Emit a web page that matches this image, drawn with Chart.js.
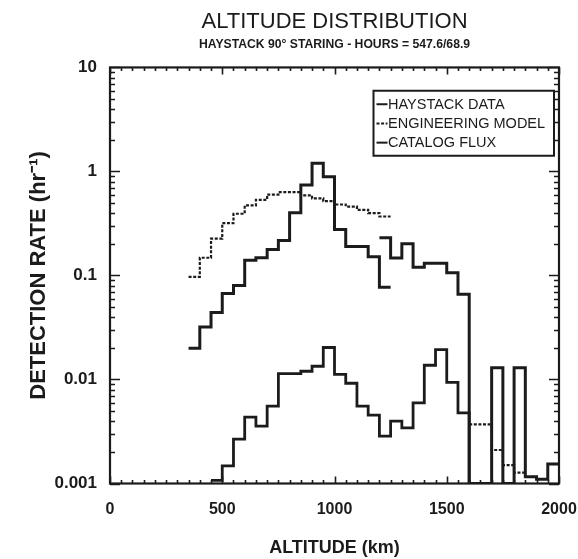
<!DOCTYPE html>
<html>
<head>
<meta charset="utf-8">
<script src="https://cdn.jsdelivr.net/npm/chart.js@4"></script>
<style>
html,body{margin:0;padding:0;background:#fff;}
#wrap{width:578px;height:559px;}
</style>
</head>
<body>
<div id="wrap"><canvas id="c" width="578" height="559"></canvas></div>
<script>
// ---- data (altitude bin left edges in km, 50 km bins; detection rate in hr^-1) ----
const BIN_WIDTH = 50;

const haystackAltA = [350,400,450,500,550,600,650,700,750,800,850,900,950,1000,1050,1100,1150,1200];
const haystackRateA = [0.020,0.032,0.044,0.067,0.080,0.140,0.148,0.178,0.217,0.40,0.74,1.20,0.89,0.277,0.19,0.19,0.151,0.077];

const haystackAltB = [1200,1250,1300,1350,1400,1450,1500,1550,1600,1650,1700,1750,1800,1850,1900,1950];
const haystackRateB = [0.231,0.147,0.202,0.120,0.131,0.131,0.106,0.066,0.001,0.001,0.013,0.001,0.013,0.00116,0.0011,0.00154];

const modelAltA = [350,400,450,500,550,600,650,700,750,800,850,900,950,1000,1050,1100,1150,1200];
const modelRateA = [0.097,0.148,0.226,0.318,0.392,0.471,0.534,0.600,0.632,0.632,0.590,0.550,0.518,0.481,0.460,0.428,0.397,0.369];

const modelAltB = [1600,1650,1700,1750,1800];
const modelRateB = [0.0037,0.0037,0.0021,0.0015,0.00127];

const catalogAlt = [450,500,550,600,650,700,750,800,850,900,950,1000,1050,1100,1150,1200,1250,1300,1350,1400,1450,1500,1550,1600];
const catalogRate = [0.00107,0.00148,0.00267,0.00435,0.00356,0.00554,0.0114,0.0114,0.0120,0.0134,0.0203,0.0112,0.0092,0.00554,0.00454,0.00286,0.00398,0.00343,0.00596,0.0137,0.0194,0.00936,0.00478,0.001];

const xTickValues = [0,500,1000,1500,2000];
const yTickValues = [0.001,0.01,0.1,1,10];

const titleText = 'ALTITUDE DISTRIBUTION';
const subtitleText = 'HAYSTACK 90\u00B0 STARING - HOURS = 547.6/68.9';
const xTitle = 'ALTITUDE (km)';
const yTitle = 'DETECTION RATE (hr\u207B\u00B9)';
const legendLabels = ['HAYSTACK DATA','ENGINEERING MODEL','CATALOG FLUX'];

// ---- helpers ----
function steps(alts, vals){
  const pts = alts.map((a,i)=>({x:a, y:vals[i]}));
  pts.push({x: alts[alts.length-1] + BIN_WIDTH, y: vals[vals.length-1]});
  return pts;
}

const INK = '#1b1b1b';
const FAMILY = "'Liberation Sans', Arial, Helvetica, sans-serif";

const modelData = steps(modelAltA, modelRateA)
  .concat([{x: 1400, y: null}])
  .concat(steps(modelAltB, modelRateB));

const datasets = [
  {label: legendLabels[0], inLegend: true, data: steps(haystackAltA, haystackRateA),
   borderColor: INK, borderWidth: 3, stepped: true, pointRadius: 0, fill: false},
  {label: legendLabels[1], inLegend: true, data: modelData,
   borderColor: INK, borderWidth: 2.2, borderDash: [3,1.6], stepped: true, pointRadius: 0, fill: false, spanGaps: false},
  {label: legendLabels[2], inLegend: true, data: steps(catalogAlt, catalogRate),
   borderColor: INK, borderWidth: 2.8, stepped: true, pointRadius: 0, fill: false},
  {label: legendLabels[0] + ' (2)', inLegend: false, data: steps(haystackAltB, haystackRateB),
   borderColor: INK, borderWidth: 3, stepped: true, pointRadius: 0, fill: false}
];

// frame + inward ticks on all four sides, placed through the scales
const frameTicks = {
  id: 'frameTicks',
  afterDatasetsDraw(chart){
    const {ctx, chartArea: a, scales: {x, y}} = chart;
    ctx.save();
    ctx.strokeStyle = INK;
    ctx.lineWidth = 1.6;
    ctx.beginPath();
    for (let k = -3; k <= 1; k++){
      for (let m = 1; m <= 9; m++){
        const v = m * Math.pow(10, k);
        if (v > 10.0001) break;
        const py = Math.round(y.getPixelForValue(v)) + 0.5;
        const len = m === 1 ? 10 : 5;
        ctx.moveTo(a.left, py); ctx.lineTo(a.left + len, py);
        ctx.moveTo(a.right, py); ctx.lineTo(a.right - len, py);
      }
    }
    for (let v = 0; v <= 2000; v += BIN_WIDTH){
      const px = Math.round(x.getPixelForValue(v)) + 0.5;
      const len = v % 500 === 0 ? 7 : 3.5;
      ctx.moveTo(px, a.bottom); ctx.lineTo(px, a.bottom - len);
      ctx.moveTo(px, a.top); ctx.lineTo(px, a.top + len);
    }
    ctx.stroke();
    ctx.lineWidth = 2.2;
    ctx.strokeRect(a.left, a.top, a.right - a.left, a.bottom - a.top);
    ctx.restore();
  }
};

// boxed legend inside the plot, upper right
const boxLegend = {
  id: 'boxLegend',
  afterDraw(chart){
    const {ctx, chartArea: a} = chart;
    const items = chart.data.datasets.filter(d => d.inLegend);
    const w = 180.5, h = 65;
    const x0 = a.right - 185.5, y0 = a.top + 23.3;
    ctx.save();
    ctx.fillStyle = '#fff';
    ctx.fillRect(x0, y0, w, h);
    ctx.strokeStyle = INK;
    ctx.lineWidth = 2;
    ctx.strokeRect(x0, y0, w, h);
    ctx.font = '14.5px ' + FAMILY;
    ctx.textBaseline = 'middle';
    ctx.textAlign = 'left';
    ctx.fillStyle = INK;
    items.forEach((d, i) => {
      const cy = y0 + 13.5 + i * 19.2;
      ctx.lineWidth = 2;
      ctx.setLineDash(d.borderDash || []);
      ctx.beginPath();
      ctx.moveTo(x0 + 3, cy); ctx.lineTo(x0 + 14, cy);
      ctx.stroke();
      ctx.setLineDash([]);
      ctx.fillText(d.label, x0 + 14.5, cy + 0.5);
    });
    ctx.restore();
  }
};

function isDecade(v){
  const l = Math.log10(v);
  return Math.abs(l - Math.round(l)) < 1e-9;
}

new Chart(document.getElementById('c'), {
  type: 'line',
  data: {datasets},
  plugins: [frameTicks, boxLegend],
  options: {
    responsive: false,
    animation: false,
    devicePixelRatio: 1,
    events: [],
    layout: {padding: {left: 0, right: 19, top: 0, bottom: 0}},
    plugins: {
      legend: {display: false},
      tooltip: {enabled: false},
      title: {display: true, text: titleText, fullSize: false, color: INK,
              font: {family: FAMILY, size: 22, weight: 'normal', lineHeight: 1.2},
              padding: {top: 8.8, bottom: 0}},
      subtitle: {display: true, text: subtitleText, fullSize: false, color: INK,
              font: {family: FAMILY, size: 12.2, weight: 'bold', lineHeight: 1.2},
              padding: {top: 2.5, bottom: 15.1}}
    },
    scales: {
      x: {
        type: 'linear', min: 0, max: 2000,
        afterFit(s){ s.height = 75.5; s.paddingLeft = 0; s.paddingRight = 0; },
        afterBuildTicks(s){ s.ticks = xTickValues.map(v => ({value: v})); },
        grid: {display: false, drawTicks: false, tickLength: 0},
        border: {display: false},
        ticks: {color: INK, padding: 16, maxRotation: 0, autoSkip: false,
                font: {family: FAMILY, size: 16, weight: 'bold'},
                callback: v => String(v)},
        title: {display: true, text: xTitle, color: INK,
                font: {family: FAMILY, size: 18, weight: 'bold', lineHeight: 1.2},
                padding: {top: 0, bottom: 0}}
      },
      y: {
        type: 'logarithmic', min: 0.001, max: 10,
        afterFit(s){ s.width = 110; s.paddingTop = 0; s.paddingBottom = 0; },
        afterBuildTicks(s){ s.ticks = yTickValues.map(v => ({value: v, major: true})); },
        grid: {display: false, drawTicks: false, tickLength: 0},
        border: {display: false},
        ticks: {color: INK, padding: 13, autoSkip: false,
                font: {family: FAMILY, size: 17, weight: 'bold'},
                callback: v => isDecade(v) ? String(Number(Number(v).toPrecision(1))) : null},
        title: {display: true, text: yTitle, color: INK,
                font: {family: FAMILY, size: 22, weight: 'bold', lineHeight: 1.2},
                padding: {top: 25.8, bottom: 0}}
      }
    }
  }
});
</script>
</body>
</html>
